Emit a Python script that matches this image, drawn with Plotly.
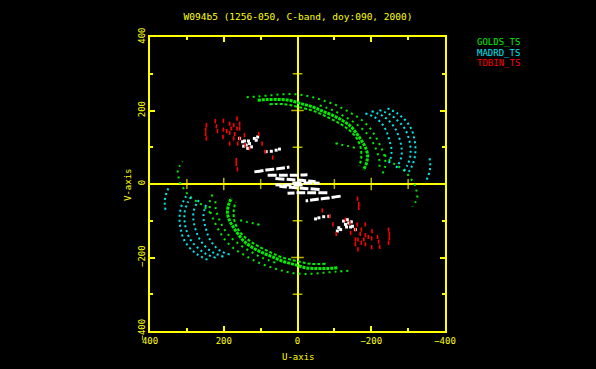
import plotly.graph_objects as go

# ---- data: (u, v) samples of each track, one half of the Hermitian pair ----
# GOLDS_TS
golds_a_u = [138, 111, 76, 41, 3, -33, -68, -106, -141, -168, -195, -211, -225, -236, -238, -230]
golds_a_v = [236, 238, 241, 244, 244, 238, 228, 214, 195, 179, 154, 130, 103, 76, 49, 27]
golds_b_u = [108, 81, 49, 22, -5, -38, -68, -95, -122, -144, -160, -173, -184, -190, -187, -179]
golds_b_v = [228, 230, 230, 228, 220, 211, 198, 187, 173, 157, 138, 119, 100, 79, 57, 38]
golds_c_u = [76, 35, -5, -46, -81, -114, -141, -160, -171, -173, -168]
golds_c_v = [217, 217, 209, 198, 182, 165, 146, 125, 100, 73, 49]
golds_d_u = [-60, -95, -127, -157, -182, -201, -214, -222, -222]
golds_d_v = [214, 201, 184, 165, 144, 119, 92, 65, 38]
golds_e_u = [-236, -255, -276, -293, -306, -317, -322, -325, -320, -312]
golds_e_v = [79, 60, 46, 33, 16, 0, -16, -33, -49, -62]
golds_f_u = [-103, -119, -138, -157]
golds_f_v = [111, 107, 103, 98]

# MADRD_TS
madrd_a_u = [-184, -209, -228, -241, -249, -255, -252, -244]
madrd_a_v = [192, 182, 165, 144, 119, 92, 68, 49]
madrd_b_u = [-201, -228, -249, -266, -276, -282, -282, -274, -263]
madrd_b_v = [198, 187, 171, 149, 125, 100, 76, 54, 38]
madrd_c_u = [-222, -249, -271, -290, -301, -306, -306, -298, -287]
madrd_c_v = [201, 190, 173, 152, 127, 103, 76, 51, 33]
madrd_d_u = [-244, -271, -293, -309, -317, -320, -317, -309, -298]
madrd_d_v = [206, 192, 173, 149, 122, 95, 68, 46, 27]
madrd_e_u = [-358, -360, -358, -350]
madrd_e_v = [70, 51, 33, 11]

# TDBIN_TS
tdbin_u = [223, 201, 164, 247, 184, 173, 157, 249, 220, 201, 192, 180, 164, 157, 217, 184, 170,
           249, 202, 144, 247, 184, 162, 173, 157, 130, 142, 105, 96, 87, 67, 166, 166, 163]
tdbin_v = [171, 172, 178, 160, 164, 160, 164, 148, 157, 148, 144, 151, 151, 151, 144, 139, 136,
           136, 128, 133, 124, 110, 110, 124, 124, 97, 106, 136, 110, 88, 72, 65, 54, 40]

# short baselines (white)
short_u = [157, 149, 139, 130, 135, 125, 144, 117, 108, 112, 146, 133, 85, 71, 58, 49]
short_v = [124, 115, 106, 110, 97, 101, 117, 124, 128, 119, 103, 117, 88, 89, 92, 95]
streak_a_u = [117, 85, 50, 22]
streak_a_v = [33, 38, 42, 46]
streak_b_u = [81, 40, 0, -27]
streak_b_v = [24, 24, 24, 25]
streak_c_u = [60, 20, -20, -49]
streak_c_v = [15, 12, 9, 6]
streak_d_u = [14, -20, -60]
streak_d_v = [3, 3, 2]

title_text = "W094b5 (1256-050, C-band, doy:090, 2000)"
stations = ["GOLDS_TS", "MADRD_TS", "TDBIN_TS"]
x_ticks = [400, 200, 0, -200, -400]
y_ticks = [-400, -200, 0, 200, 400]
minor_ticks = [-300, -200, -100, 100, 200, 300]

YEL = "#ffff00"
GRN = "#00ee00"
CYN = "#00e8f0"
RED = "#ff0000"
FONT = "DejaVu Sans Mono"


def conj(us, vs):
    """track plus its Hermitian conjugate, separated by a gap"""
    return (list(us) + [None] + [-u for u in us], list(vs) + [None] + [-v for v in vs])


fig = go.Figure()


def add_track(us, vs, color, width, dash):
    x, y = conj(us, vs)
    fig.add_trace(go.Scatter(x=x, y=y, mode="lines", showlegend=False, hoverinfo="skip",
                             line=dict(color=color, width=width, dash=dash, shape="spline")))


for us, vs, w, d in [(golds_a_u, golds_a_v, 2, "2px,4px"),
                     (golds_b_u, golds_b_v, 3, "3px,1px"),
                     (golds_c_u, golds_c_v, 2, "3px,2px"),
                     (golds_d_u, golds_d_v, 2, "2px,4px"),
                     (golds_e_u, golds_e_v, 2, "2px,4px"),
                     (golds_f_u, golds_f_v, 2, "2px,4px")]:
    add_track(us, vs, GRN, w, d)

for us, vs in [(madrd_a_u, madrd_a_v), (madrd_b_u, madrd_b_v), (madrd_c_u, madrd_c_v),
               (madrd_d_u, madrd_d_v), (madrd_e_u, madrd_e_v)]:
    add_track(us, vs, CYN, 2, "2px,3px")

for us, vs in [(streak_a_u, streak_a_v), (streak_b_u, streak_b_v),
               (streak_c_u, streak_c_v), (streak_d_u, streak_d_v)]:
    add_track(us, vs, "#ffffff", 3, "9px,2px")

x, y = conj(short_u, short_v)
fig.add_trace(go.Scatter(x=x, y=y, mode="markers", showlegend=False, hoverinfo="skip",
                         marker=dict(symbol="square", size=3, color="#ffffff", line=dict(width=0))))

x, y = conj(tdbin_u, tdbin_v)
fig.add_trace(go.Scatter(x=x, y=y, mode="markers", showlegend=False, hoverinfo="skip",
                         marker=dict(symbol="line-ns", size=3, line=dict(width=1.6, color=RED))))

# ticks on the zero axes
fig.add_trace(go.Scatter(x=minor_ticks, y=[0] * len(minor_ticks), mode="markers", showlegend=False,
                         hoverinfo="skip",
                         marker=dict(symbol="line-ns", size=[7, 9, 7, 7, 9, 7],
                                     line=dict(width=1.5, color=YEL))))
fig.add_trace(go.Scatter(x=[0] * len(minor_ticks), y=minor_ticks, mode="markers", showlegend=False,
                         hoverinfo="skip",
                         marker=dict(symbol="line-ew", size=[7, 9, 7, 7, 9, 7],
                                     line=dict(width=1.5, color=YEL))))

axis_common = dict(showgrid=False, zeroline=True, zerolinecolor=YEL, zerolinewidth=1.5,
                   showline=True, linecolor=YEL, linewidth=1.5, mirror="ticks",
                   ticks="inside", ticklen=5, tickwidth=1.5, tickcolor=YEL,
                   tickfont=dict(family=FONT, size=9, color=YEL),
                   minor=dict(dtick=100, ticks="inside", ticklen=3, tickwidth=1.5, tickcolor=YEL))

fig.update_xaxes(range=[400, -400], tickvals=x_ticks, **axis_common)
fig.update_yaxes(range=[-400, 400], tickvals=y_ticks, tickangle=-90, **axis_common)

ann = [dict(text="U-axis", x=0.5017, y=-0.088, xref="paper", yref="paper", showarrow=False,
            xanchor="center", yanchor="middle", font=dict(family=FONT, size=9, color=YEL)),
       dict(text="V-axis", x=-0.0746, y=0.5, xref="paper", yref="paper", showarrow=False,
            textangle=-90, xanchor="center", yanchor="middle",
            font=dict(family=FONT, size=9, color=YEL))]
for name, col, yy in zip(stations, [GRN, CYN, RED], [0.982, 0.9446, 0.9105]):
    ann.append(dict(text=name, x=1.1017, y=yy, xref="paper", yref="paper", showarrow=False,
                    xanchor="left", yanchor="middle", font=dict(family=FONT, size=9, color=col)))

fig.update_layout(
    width=596, height=369,
    margin=dict(l=150, r=151, t=37, b=38),
    paper_bgcolor="#000000", plot_bgcolor="#000000",
    title=dict(text=title_text, x=0.5, xanchor="center", y=1 - 16.3 / 369, yanchor="middle",
               yref="container", font=dict(family=FONT, size=9.5, color=YEL)),
    annotations=ann,
    showlegend=False,
)

fig.write_html("out.html", config={"displayModeBar": False},
               post_script="document.body.style.margin='0';document.body.style.background='#000';")
